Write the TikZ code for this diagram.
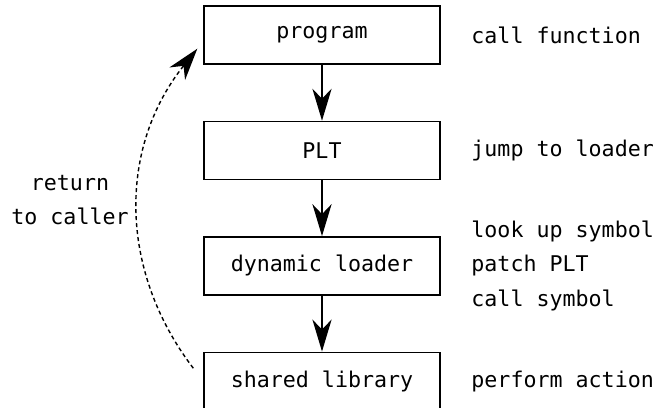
\documentclass[tikz,border=0pt]{standalone}
\usepackage{fontspec}
\setmonofont{DejaVu Sans Mono}
\usepackage{tikz}
\usetikzlibrary{positioning}
\usetikzlibrary{calc}
\usetikzlibrary{arrows.meta}

\begin{document}
\begin{tikzpicture}[line width=1pt, font=\ttfamily\fontsize{15.4}{24.5}\selectfont,
  stage/.style={draw, minimum width=5.9cm, minimum height=1.45cm, inner sep=0pt},
  note/.style={align=left, inner sep=0pt},
  flow/.style={-{Stealth[length=0.8cm, width=0.48cm, inset=0.25cm]}},
  flow back/.style={line width=1pt, dash pattern=on 0.1cm off 0.075cm,
    -{Stealth[length=0.8cm, width=0.5cm, inset=0.25cm]}},
  node distance=1.4cm]
\useasboundingbox (0,0) rectangle (16.45,-10.175);
% -- call chain --
\node[stage] (prog) at (8.05,-0.875) {program};
\node[stage, below=of prog] (plt) {PLT};
\node[stage, below=of plt] (dyn) {dynamic loader};
\node[stage, below=of dyn] (shared) {shared library};
\draw[flow] (prog) -- (plt);
\draw[flow] (plt) -- (dyn);
\draw[flow] (dyn) -- (shared);
% -- what each stage does --
\node[note, right=0.75cm of prog] (callfn) {call function};
\node[note, right=0.75cm of plt] (jump) {jump to loader};
\node[note, right=0.75cm of dyn] (steps) {look up symbol\\patch PLT\\call symbol};
\node[note, right=0.75cm of shared] (action) {perform action};
% -- return path --
\coordinate (retfrom) at ($(shared.west)+(-0.25,0.325)$);
\coordinate (retto) at ($(prog.south west)+(-0.15,0.4)$);
\draw[flow back] (retfrom) to[bend left=38] (retto);
\node[align=center] (retlbl) at (1.75,-5.0) {return\\to caller};
\end{tikzpicture}
\end{document}
